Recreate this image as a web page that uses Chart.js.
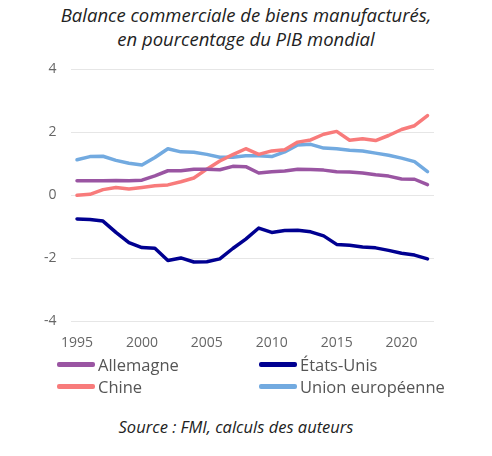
<!DOCTYPE html>
<html>
<head>
<meta charset="utf-8">
<script src="https://cdn.jsdelivr.net/npm/chart.js@4.4.0/dist/chart.umd.min.js"></script>
<style>
  body{margin:0;background:#fff;font-family:"Open Sans",sans-serif;}
  #wrap{position:relative;width:492px;height:456px;}
  #title{position:absolute;top:3px;left:0;width:492px;text-align:center;font-style:italic;font-size:18.5px;line-height:24px;color:#222;}
  #box{position:absolute;top:47px;left:0;width:492px;height:309px;}
  #legend{position:absolute;top:354px;left:57px;width:420px;display:grid;grid-template-columns:202px 200px;row-gap:1px;}
  .item{display:flex;align-items:center;font-size:16.5px;color:#555;height:21px;}
  .item span.ln{display:inline-block;width:38px;height:4.5px;border-radius:2px;margin-right:3px;}
  #source{position:absolute;top:415px;left:0;width:472px;text-align:center;font-style:italic;font-size:16.5px;color:#222;}
</style>
</head>
<body>
<div id="wrap">
  <div id="title">Balance commerciale de biens manufacturés,<br>en pourcentage du PIB mondial</div>
  <div id="box"><canvas id="c"></canvas></div>
  <div id="legend"></div>
  <div id="source">Source : FMI, calculs des auteurs</div>
</div>
<script>
// années 1995-2022
const years = [];
for(let y=1995;y<=2022;y++) years.push(y);

const allemagne = [0.46,0.46,0.46,0.47,0.46,0.48,0.62,0.78,0.78,0.83,0.83,0.81,0.92,0.91,0.71,0.75,0.77,0.83,0.82,0.80,0.75,0.74,0.71,0.65,0.61,0.52,0.51,0.34];
const etatsUnis = [-0.75,-0.77,-0.82,-1.18,-1.50,-1.66,-1.68,-2.07,-1.99,-2.12,-2.11,-2.02,-1.69,-1.39,-1.04,-1.18,-1.12,-1.11,-1.16,-1.29,-1.56,-1.59,-1.64,-1.67,-1.75,-1.84,-1.90,-2.02];
const chine = [0.00,0.03,0.18,0.25,0.20,0.25,0.30,0.33,0.43,0.55,0.83,1.09,1.29,1.48,1.30,1.41,1.45,1.69,1.76,1.94,2.03,1.75,1.80,1.74,1.90,2.09,2.21,2.53];
const ue = [1.13,1.23,1.24,1.11,1.02,0.96,1.20,1.48,1.38,1.37,1.30,1.21,1.21,1.26,1.26,1.23,1.38,1.60,1.62,1.50,1.48,1.43,1.41,1.34,1.27,1.18,1.07,0.75];

const yTicks = [-4,-2,0,2,4];

const series = [
  {label:"Allemagne", data:allemagne, color:"#9a55a2"},
  {label:"États-Unis", data:etatsUnis, color:"#000091"},
  {label:"Chine", data:chine, color:"#f87b7b"},
  {label:"Union européenne", data:ue, color:"#72aae0"}
];

const chart = new Chart(document.getElementById("c"),{
  type:"line",
  data:{
    labels:years,
    datasets:series.map(s=>({
      label:s.label, data:s.data, borderColor:s.color, backgroundColor:s.color,
      borderWidth:3.5, pointRadius:0, tension:0, borderCapStyle:"round", borderJoinStyle:"round"
    }))
  },
  options:{
    responsive:true, maintainAspectRatio:false, animation:false,
    layout:{padding:{left:30,right:58,top:0,bottom:0}},
    plugins:{legend:{display:false}, tooltip:{enabled:false}},
    scales:{
      x:{
        offset:true,
        grid:{display:false},
        border:{display:false},
        ticks:{
          autoSkip:false, maxRotation:0, color:"#666", padding:5,
          font:{family:"Open Sans",size:14},
          callback:function(v,i){ const y=years[i]; return y%5===0 ? String(y) : ""; }
        }
      },
      y:{
        min:-4, max:4,
        afterBuildTicks:s=>{ s.ticks = yTicks.map(v=>({value:v})); },
        grid:{color:"#e6e6e6", drawTicks:false},
        border:{display:false},
        ticks:{color:"#666", padding:14, font:{family:"Open Sans",size:14}}
      }
    }
  }
});

// légende en deux colonnes
const leg = document.getElementById("legend");
chart.data.datasets.forEach(ds=>{
  const d = document.createElement("div");
  d.className = "item";
  d.innerHTML = '<span class="ln" style="background:'+ds.borderColor+'"></span>'+ds.label;
  leg.appendChild(d);
});
</script>
</body>
</html>
